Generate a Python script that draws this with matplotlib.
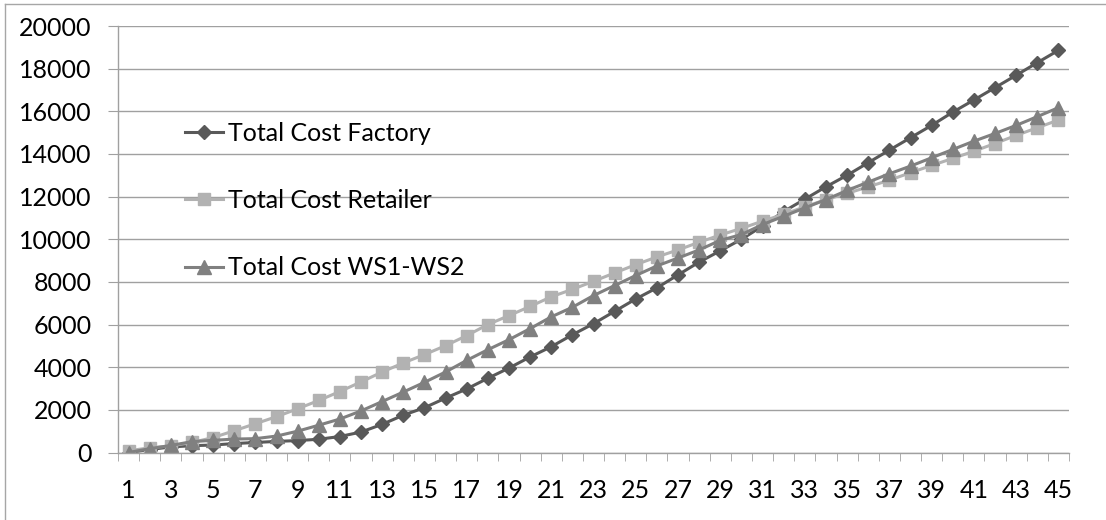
import numpy as np
import matplotlib
matplotlib.use("Agg")
import matplotlib.pyplot as plt
from matplotlib.lines import Line2D
from matplotlib.ticker import FixedLocator

plt.rcParams['font.family'] = ['Lato', 'DejaVu Sans']

# periods on the x axis
periods = list(range(1, 46))

# series values
cost_factory = [0, 140, 260, 320, 350, 420, 470, 520, 560, 620,
                750, 960, 1320, 1750, 2100, 2550, 2980, 3480, 3960, 4480,
                4960, 5520, 6040, 6620, 7200, 7720, 8330, 8930, 9460, 10000,
                10620, 11300, 11880, 12460, 13000, 13590, 14180, 14760, 15340, 15960,
                16530, 17110, 17690, 18280, 18860]
cost_retailer = [80, 220, 310, 470, 700, 1020, 1350, 1680, 2050, 2440,
                 2860, 3310, 3775, 4200, 4590, 5010, 5480, 6000, 6420, 6850,
                 7300, 7650, 8030, 8420, 8810, 9170, 9500, 9860, 10200, 10510,
                 10850, 11170, 11520, 11860, 12150, 12460, 12770, 13120, 13460, 13790,
                 14130, 14490, 14870, 15230, 15590]
cost_ws = [0, 180, 330, 510, 570, 630, 650, 770, 1000, 1280,
           1570, 1950, 2390, 2835, 3290, 3775, 4320, 4820, 5290, 5810,
           6360, 6810, 7360, 7830, 8300, 8750, 9120, 9500, 9950, 10220,
           10690, 11080, 11470, 11860, 12290, 12680, 13070, 13430, 13820, 14210,
           14600, 14960, 15340, 15750, 16170]

labels = ["Total Cost Factory", "Total Cost Retailer", "Total Cost WS1-WS2"]

GRID = "#a0a0a0"

fig = plt.figure(figsize=(11.06, 5.2), dpi=100)
ax = fig.add_axes([118 / 1106, 67.5 / 520, 951 / 1106, 426.5 / 520])

ax.plot(periods, cost_factory, color="#595959", lw=2.2, marker="D", ms=7.5, label=labels[0])
ax.plot(periods, cost_retailer, color="#b2b2b2", lw=2.2, marker="s", ms=9, label=labels[1])
ax.plot(periods, cost_ws, color="#808080", lw=2.2, marker="^", ms=10, label=labels[2])

ax.set_xlim(0.5, 45.5)
ax.set_ylim(0, 20000)
ax.set_yticks(range(0, 20001, 2000))
ax.xaxis.set_major_locator(FixedLocator(periods[::2]))
ax.xaxis.set_minor_locator(FixedLocator(np.arange(0.5, 46, 1)))

ax.yaxis.grid(True, color=GRID, lw=1)
ax.set_axisbelow(True)
for s in ["top", "right"]:
    ax.spines[s].set_visible(False)
for s in ["left", "bottom"]:
    ax.spines[s].set_color(GRID)
    ax.spines[s].set_linewidth(1)

ax.tick_params(axis="y", length=7, color=GRID, pad=12, labelsize=18)
ax.tick_params(axis="x", which="major", length=0, pad=19, labelsize=18)
ax.tick_params(axis="x", which="minor", length=6, color=GRID, direction="out")

ax.legend(loc="upper left", bbox_to_anchor=(0.0705, 0.775), frameon=False,
          fontsize=18, handlelength=1.5, handletextpad=0.2, labelspacing=1.77,
          borderpad=0, borderaxespad=0)

# chart area border (only top and left visible)
bx = 5 / 1106
by = 1 - 4 / 520
fig.add_artist(Line2D([bx, 1.0], [by, by], transform=fig.transFigure, color="#a6a6a6", lw=1))
fig.add_artist(Line2D([bx, bx], [0.0, by], transform=fig.transFigure, color="#a6a6a6", lw=1))

fig.savefig("out.png", dpi=100)
